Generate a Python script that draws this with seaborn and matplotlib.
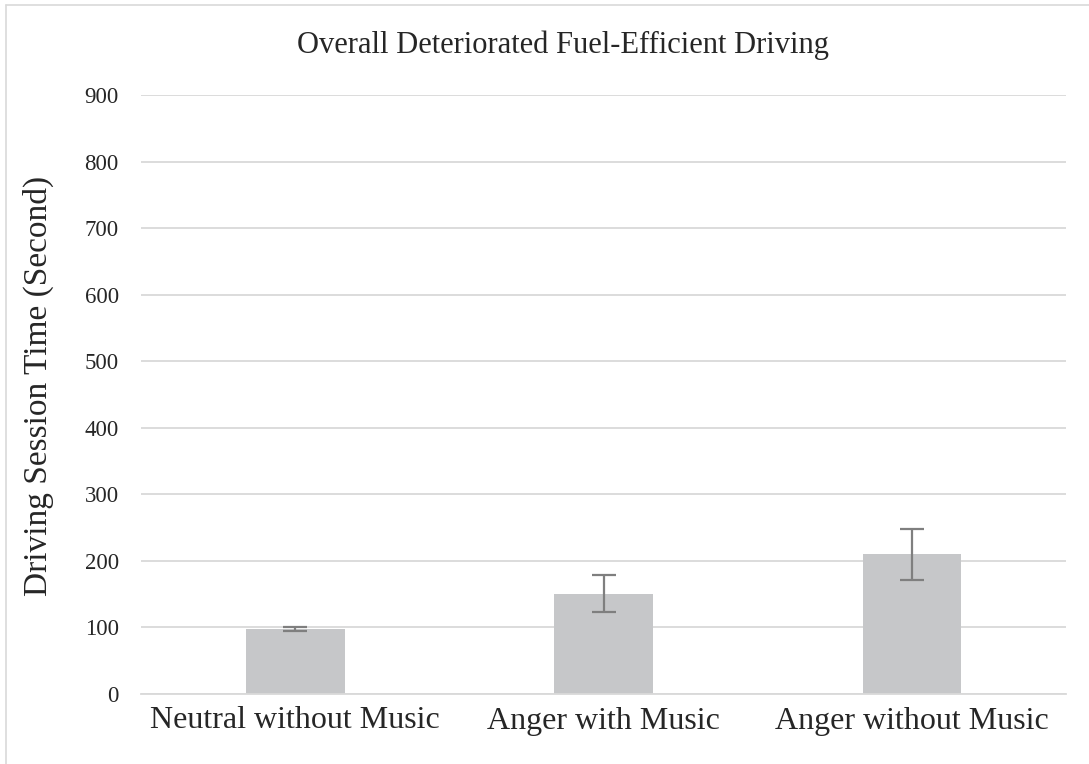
import matplotlib
matplotlib.use("Agg")
import matplotlib.pyplot as plt
import seaborn as sns
import pandas as pd
from matplotlib.lines import Line2D

categories = ["Neutral without Music", "Anger with Music", "Anger without Music"]
values = [97, 151, 210]
errors = [3, 28.5, 38.5]
yticks = [0, 100, 200, 300, 400, 500, 600, 700, 800, 900]

sns.set_theme(style="white")
plt.rcParams["font.family"] = ["Liberation Serif", "DejaVu Serif"]

fig = plt.figure(figsize=(10.89, 7.64), dpi=100)
ax = fig.add_axes([141/1089, 1-694/764, (1066-141)/1089, (694-95)/764])

df = pd.DataFrame({"cat": categories, "val": values})
sns.barplot(data=df, x="cat", y="val", color="#c6c7c9", saturation=1,
            width=0.32, ax=ax, errorbar=None, linewidth=0)

centers = [p.get_x() + p.get_width()/2 for p in ax.patches]
ax.errorbar(centers, values, yerr=errors, fmt="none", ecolor="#7f7f7f",
            elinewidth=1.6, capsize=8.5, capthick=1.6, zorder=5)

ax.set_ylim(0, 900)
ax.set_xlim(-0.5, 2.5)
ax.set_yticks(yticks)
ax.yaxis.grid(True, color="#d9d9d9", linewidth=1.3)
ax.set_axisbelow(True)
for s in ["top", "right", "left"]:
    ax.spines[s].set_visible(False)
ax.spines["bottom"].set_color("#d9d9d9")
ax.spines["bottom"].set_linewidth(1.3)
ax.tick_params(axis="y", length=0, pad=16, labelsize=16.5, colors="#262626")
ax.tick_params(axis="x", length=0, pad=9, labelsize=23, colors="#262626")
ax.set_xlabel("")
ax.set_ylabel("Driving Session Time (Second)", fontsize=24, color="#262626", labelpad=22)
ax.yaxis.label.set_y(0.515)
fig.text(563/1089, 1-45/764, "Overall Deteriorated Fuel-Efficient Driving",
         ha="center", va="center", fontsize=22, color="#262626")

# outer chart border (left and top visible)
fig.add_artist(Line2D([6/1089, 6/1089], [0, 1-5/764], transform=fig.transFigure,
                      color="#d9d9d9", linewidth=1.2))
fig.add_artist(Line2D([6/1089, 1], [1-5/764, 1-5/764], transform=fig.transFigure,
                      color="#d9d9d9", linewidth=1.2))

fig.savefig("out.png", dpi=100, facecolor="white")
